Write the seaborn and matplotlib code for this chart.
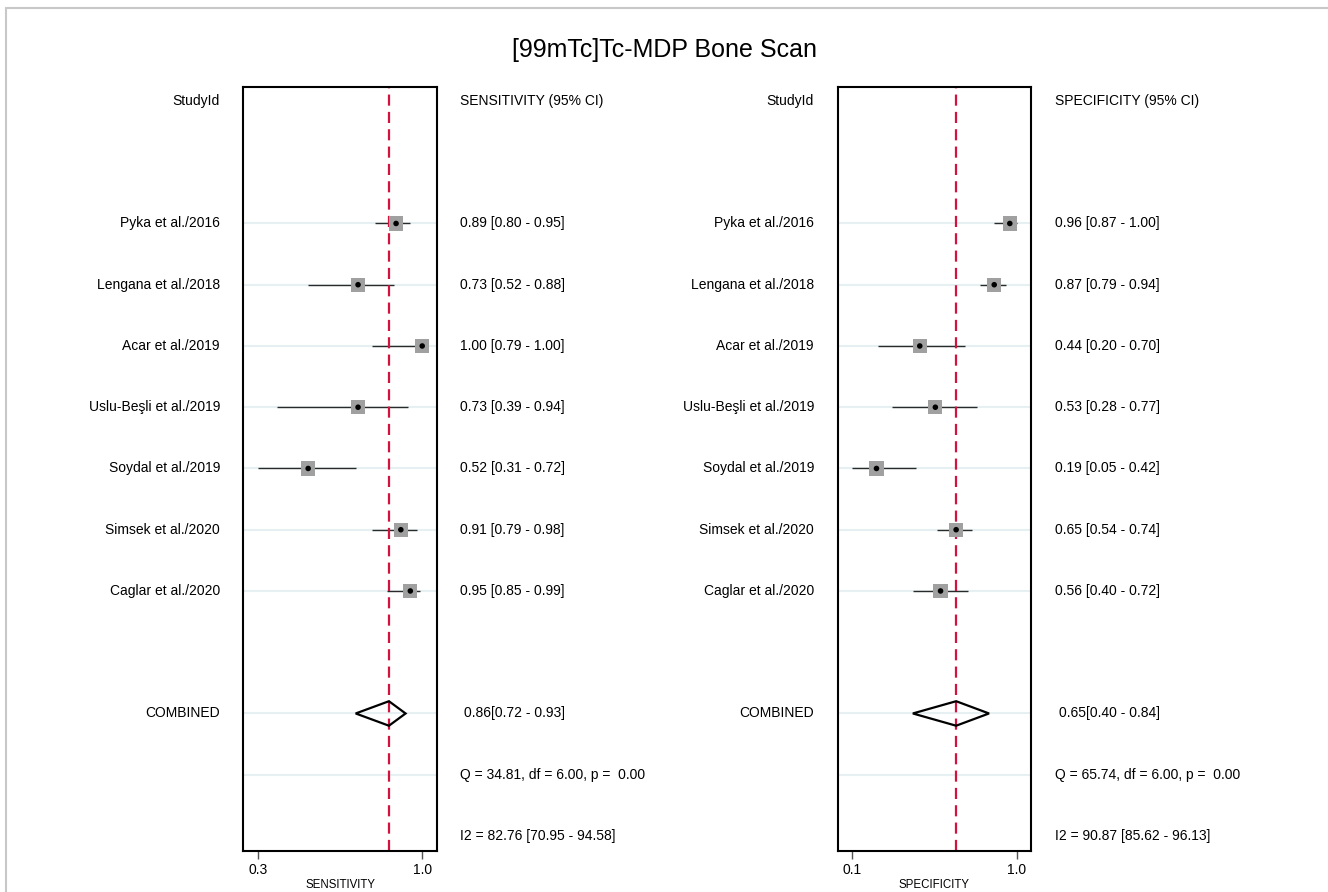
import numpy as np
import pandas as pd
import matplotlib
matplotlib.use("Agg")
import matplotlib.pyplot as plt
import matplotlib.transforms as mtransforms
from matplotlib.lines import Line2D
from matplotlib.patches import Polygon
import seaborn as sns

sns.set_theme(style="white")
plt.rcParams.update({
    "font.family": ["Liberation Sans", "DejaVu Sans"],
    "text.color": "black",
    "axes.labelcolor": "black",
    "xtick.color": "black",
})

# --- data ---
studies = ["Pyka et al./2016", "Lengana et al./2018", "Acar et al./2019",
           "Uslu-Beşli et al./2019", "Soydal et al./2019", "Simsek et al./2020",
           "Caglar et al./2020"]

sens = [0.89, 0.73, 1.00, 0.73, 0.52, 0.91, 0.95]
sens_lo = [0.80, 0.52, 0.79, 0.39, 0.31, 0.79, 0.85]
sens_hi = [0.95, 0.88, 1.00, 0.94, 0.72, 0.98, 0.99]
sens_pooled = (0.86, 0.72, 0.93)
sens_q = "Q = 34.81, df = 6.00, p =  0.00"
sens_i2 = "I2 = 82.76 [70.95 - 94.58]"

spec = [0.96, 0.87, 0.44, 0.53, 0.19, 0.65, 0.56]
spec_lo = [0.87, 0.79, 0.20, 0.28, 0.05, 0.54, 0.40]
spec_hi = [1.00, 0.94, 0.70, 0.77, 0.42, 0.74, 0.72]
spec_pooled = (0.65, 0.40, 0.84)
spec_q = "Q = 65.74, df = 6.00, p =  0.00"
spec_i2 = "I2 = 90.87 [85.62 - 96.13]"

W, H = 1328, 892
fig = plt.figure(figsize=(W / 100, H / 100), dpi=100)

study_rows = np.arange(2, 2 + len(studies))
comb_row, q_row, i2_row = 10, 11, 12
grid_rows = list(study_rows) + [comb_row, q_row]

RED = "#d2123f"
GRID = "#e6eff1"


def panel(x0_px, est, lo, hi, pooled, q_txt, i2_txt, name, xlim, label_px, text_px):
    ax = fig.add_axes([x0_px / W, 0.0460, 193.4 / W, 0.8568])
    df = pd.DataFrame({"study": studies, "est": est, "lo": lo, "hi": hi,
                       "row": study_rows})

    for r in grid_rows:
        ax.axhline(r, color=GRID, lw=1.5, zorder=0)

    ax.hlines(df["row"], df["lo"], df["hi"], color="#2a2a2a", lw=1.0, zorder=2)
    sns.scatterplot(data=df, x="est", y="row", marker="s", s=105, color="#a0a0a0",
                    edgecolor="none", ax=ax, zorder=3, legend=False)
    sns.scatterplot(data=df, x="est", y="row", marker="o", s=16, color="black",
                    edgecolor="none", ax=ax, zorder=4, legend=False)

    p_est, p_lo, p_hi = pooled
    dh = 0.2
    diamond = Polygon([(p_lo, comb_row), (p_est, comb_row - dh),
                       (p_hi, comb_row), (p_est, comb_row + dh)],
                      closed=True, fill=False, edgecolor="black", lw=1.6, zorder=5)
    ax.add_patch(diamond)
    # pooled estimate line sits behind the study squares
    ax.axvline(p_est, color=RED, lw=1.6, ls=(0, (5, 2.8)), zorder=2.5)

    ax.set_xlim(*xlim)
    ax.set_ylim(12.245, -0.233)
    ax.set_yticks([])
    ticks = [min(lo), 1.0]
    ax.set_xticks(ticks)
    ax.set_xticklabels([f"{t:.1f}" for t in ticks], fontsize=10)
    ax.tick_params(axis="x", direction="out", length=6, width=1, color="#555555",
                   pad=3, bottom=True)
    ax.set_xlabel(name, fontsize=8.3, labelpad=1)
    ax.set_ylabel("")
    for sp in ax.spines.values():
        sp.set_visible(True)
        sp.set_color("black")
        sp.set_linewidth(1.5)

    tr = mtransforms.blended_transform_factory(fig.transFigure, ax.transData)
    fs = 10
    fig.text(label_px / W, 0, "StudyId", transform=tr, ha="right", va="center", fontsize=fs)
    fig.text(text_px / W, 0, f"{name} (95% CI)", transform=tr, ha="left", va="center", fontsize=fs)
    for s, e, l, h, r in zip(studies, est, lo, hi, study_rows):
        fig.text(label_px / W, r, s, transform=tr, ha="right", va="center", fontsize=fs)
        fig.text(text_px / W, r, f"{e:.2f} [{l:.2f} - {h:.2f}]", transform=tr,
                 ha="left", va="center", fontsize=fs)
    fig.text(label_px / W, comb_row, "COMBINED", transform=tr, ha="right", va="center", fontsize=fs)
    fig.text((text_px + 4) / W, comb_row, f"{p_est:.2f}[{p_lo:.2f} - {p_hi:.2f}]",
             transform=tr, ha="left", va="center", fontsize=fs)
    fig.text(text_px / W, q_row, q_txt, transform=tr, ha="left", va="center", fontsize=fs)
    fig.text(text_px / W, i2_row, i2_txt, transform=tr, ha="left", va="center", fontsize=fs)
    return ax


panel(243.3, sens, sens_lo, sens_hi, sens_pooled, sens_q, sens_i2, "SENSITIVITY",
      (0.247, 1.061), 220, 460)
panel(837.7, spec, spec_lo, spec_hi, spec_pooled, spec_q, spec_i2, "SPECIFICITY",
      (-0.034, 1.083), 814, 1055)

fig.text(0.5, 1 - 50 / H, "[99mTc]Tc-MDP Bone Scan", ha="center", va="center", fontsize=18)

# thin frame at top and left edge of the image
fig.add_artist(Line2D([6 / W, 1.0], [1 - 7.5 / H, 1 - 7.5 / H], transform=fig.transFigure,
                      color="#c8c8c8", lw=1.5))
fig.add_artist(Line2D([6 / W, 6 / W], [0, 1 - 7.5 / H], transform=fig.transFigure,
                      color="#c8c8c8", lw=1.5))

fig.savefig("out.png", dpi=100)
